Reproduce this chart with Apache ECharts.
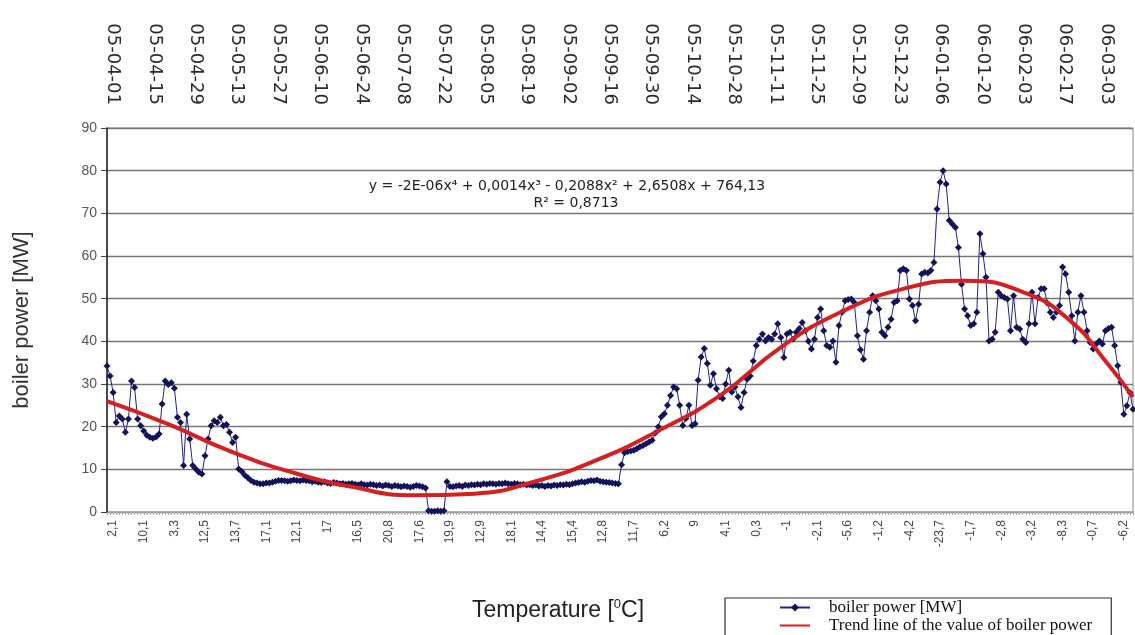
<!DOCTYPE html>
<html>
<head>
<meta charset="utf-8">
<script src="https://cdn.jsdelivr.net/npm/echarts@6/dist/echarts.min.js"></script>
<style>
  html, body { margin: 0; padding: 0; background: #fff; }
  #chart { width: 1135px; height: 635px; }
</style>
</head>
<body>
<div id="chart"></div>
<script>
// Date ticks along the top (every 14 days)
const dateTicks = [
  '05-04-01', '05-04-15', '05-04-29', '05-05-13', '05-05-27', '05-06-10', '05-06-24',
  '05-07-08', '05-07-22', '05-08-05', '05-08-19', '05-09-02', '05-09-16', '05-09-30',
  '05-10-14', '05-10-28', '05-11-11', '05-11-25', '05-12-09', '05-12-23', '06-01-06',
  '06-01-20', '06-02-03', '06-02-17', '06-03-03'
];

// Outdoor temperature shown under every 10th day
const tempTicks = [
  '2,1', '10,1', '3,3', '12,5', '13,7', '17,1', '12,1', '17', '16,5', '20,8', '17,6', '19,9',
  '12,9', '18,1', '14,4', '15,4', '12,8', '11,7', '6,2', '9', '4,1', '0,3', '-1', '-2,1',
  '-5,6', '-1,2', '-4,2', '-23,7', '-1,7', '-2,8', '-3,2', '-8,3', '-0,7', '-6,2'
];

// Daily boiler power [MW]
const power = [
  34.2, 31.9, 28.0, 21.0, 22.5, 21.8, 18.7, 21.8, 30.7, 29.2,
  21.8, 20.2, 19.0, 18.0, 17.5, 17.3, 17.6, 18.3, 25.3, 30.7,
  29.9, 30.3, 29.0, 22.2, 21.0, 10.9, 22.9, 17.1, 10.9, 10.1,
  9.3, 8.9, 13.2, 17.1, 20.2, 21.4, 21.0, 22.2, 20.2, 20.5,
  18.7, 16.3, 17.5, 10.1, 9.5, 8.6, 8.0, 7.4, 7.0, 6.8,
  6.6, 6.6, 6.8, 6.8, 7.0, 7.2, 7.4, 7.4, 7.3, 7.2,
  7.3, 7.5, 7.4, 7.3, 7.5, 7.4, 7.3, 7.1, 7.2, 7.0,
  6.9, 7.1, 6.8, 6.7, 6.9, 6.8, 6.6, 6.7, 6.5, 6.6,
  6.7, 6.5, 6.4, 6.6, 6.4, 6.3, 6.5, 6.4, 6.2, 6.3,
  6.1, 6.3, 6.2, 6.0, 6.2, 6.1, 5.9, 6.1, 6.0, 5.8,
  6.0, 6.2, 6.1, 5.9, 5.6, 0.3, 0.2, 0.2, 0.3, 0.2,
  0.3, 7.1, 6.0, 5.9, 6.1, 6.2, 6.0, 6.3, 6.2, 6.4,
  6.3, 6.5, 6.4, 6.6, 6.5, 6.7, 6.6, 6.5, 6.7, 6.6,
  6.8, 6.6, 6.5, 6.7, 6.6, 6.4, 6.5, 6.3, 6.4, 6.2,
  6.3, 6.1, 6.2, 6.0, 6.2, 6.1, 6.3, 6.2, 6.4, 6.3,
  6.5, 6.4, 6.6, 6.8, 6.9, 7.1, 7.0, 7.2, 7.4, 7.3,
  7.5, 7.2, 7.1, 7.0, 6.9, 6.8, 6.7, 6.6, 11.1, 13.9,
  14.2, 14.3, 14.5, 14.8, 15.3, 15.6, 16.0, 16.4, 16.8, 18.5,
  20.0, 22.3, 23.0, 25.0, 27.3, 29.3, 28.9, 25.0, 20.3, 21.9,
  25.0, 20.3, 20.7, 30.9, 36.3, 38.3, 34.8, 29.7, 32.4, 28.9,
  27.0, 26.6, 30.0, 33.2, 28.1, 29.3, 27.0, 24.5, 28.0, 31.1,
  31.9, 35.4, 39.0, 40.5, 41.7, 40.1, 40.9, 40.5, 41.7, 44.1,
  40.9, 36.2, 41.7, 42.1, 40.5, 42.1, 43.0, 44.4, 42.5, 40.0,
  38.2, 40.5, 45.6, 47.6, 42.5, 39.0, 38.6, 40.1, 35.1, 43.7,
  46.8, 49.5, 49.8, 49.9, 49.1, 41.3, 38.0, 35.8, 42.5, 46.8,
  50.7, 49.5, 47.6, 42.1, 41.3, 43.3, 45.2, 49.1, 49.5, 56.6,
  57.0, 56.6, 49.9, 48.4, 44.8, 48.7, 55.8, 56.2, 56.0, 56.6,
  58.5, 71.0, 77.3, 80.0, 76.9, 68.3, 67.5, 66.7, 62.0, 53.4,
  47.6, 46.0, 43.7, 44.1, 46.8, 65.2, 60.5, 55.0, 40.1, 40.5,
  42.1, 51.5, 50.7, 50.3, 49.9, 42.5, 50.7, 43.3, 42.9, 40.5,
  39.7, 44.1, 51.5, 44.1, 50.3, 52.3, 52.3, 49.0, 46.8, 45.6,
  46.8, 48.4, 57.4, 55.8, 51.5, 46.0, 40.1, 46.8, 50.7, 46.8,
  42.5, 39.7, 38.2, 39.4, 40.1, 39.4, 42.5, 43.0, 43.3, 39.0,
  34.3, 30.4, 22.9, 24.9, 28.0, 24.1
];

// Trend line of boiler power, sampled at day indices
const trendIdx = [0, 20, 40, 60, 80, 100, 120, 140, 160, 180, 200, 220, 240, 260, 280, 300, 315, 326, 335];
const trendVal = [26.0, 20.6, 14.3, 9.4, 5.9, 3.9, 4.3, 7.2, 12.2, 19.0, 27.2, 38.6, 47.0, 52.3, 54.2, 51.3, 44.5, 35.4, 27.0];

const equationText = 'y = -2E-06x\u2074 + 0,0014x\u00b3 - 0,2088x\u00b2 + 2,6508x + 764,13';
const r2Text = 'R\u00b2 = 0,8713';

// Bottom axis: one slot per day, temperature shown every 10th day
const tempFirst = 2, tempStep = 10;
const dayCats = power.map((_, i) => String(i));

// Top axis: one slot per day, date shown every 14th day
const dateFirst = 2, dateStep = 14, topSlots = 348;
const topCats = Array.from({ length: topSlots }, (_, i) => {
  const k = (i - dateFirst) / dateStep;
  return Number.isInteger(k) && k >= 0 && k < dateTicks.length ? dateTicks[k] : '';
});

const chart = echarts.init(document.getElementById('chart'), null, { renderer: 'canvas' });

const seriesPower = 'boiler power [MW]';
const seriesTrend = 'Trend line of the value of boiler power';

chart.setOption({
  backgroundColor: '#ffffff',
  animation: false,
  grid: {
    left: 107, right: 2, top: 128, bottom: 123,
    show: true, borderColor: '#888', borderWidth: 1
  },
  legend: {
    orient: 'vertical',
    left: 725, top: 598, height: 80,
    itemWidth: 30, itemHeight: 10, itemGap: 1,
    padding: [1, 19, 20, 54],
    borderColor: '#333', borderWidth: 1.2,
    textStyle: {
      fontFamily: 'Liberation Serif', fontSize: 17, color: '#111',
      padding: [0, 0, 0, 14]
    },
    data: [
      { name: seriesPower },
      { name: seriesTrend, itemStyle: { opacity: 0 } }
    ]
  },
  xAxis: [
    {
      type: 'category',
      data: dayCats,
      boundaryGap: false,
      position: 'bottom',
      axisLine: { lineStyle: { color: '#999', width: 1 } },
      axisTick: { show: true, interval: 0, length: 3, lineStyle: { color: '#aaa' } },
      axisLabel: {
        rotate: 90,
        margin: 8,
        interval: (i) => i >= tempFirst && (i - tempFirst) % tempStep === 0,
        formatter: (v, i) => tempTicks[(i - tempFirst) / tempStep] ?? '',
        fontFamily: 'Liberation Sans', fontSize: 12, color: '#4a4a4a'
      },
      splitLine: { show: false }
    },
    {
      type: 'category',
      data: topCats,
      boundaryGap: false,
      position: 'top',
      axisLine: { show: false },
      axisTick: { show: false },
      axisLabel: {
        rotate: 90,
        margin: 23,
        interval: (i, v) => v !== '',
        fontFamily: 'DejaVu Sans', fontSize: 18, color: '#2a2a2a'
      },
      splitLine: { show: false }
    }
  ],
  yAxis: {
    type: 'value',
    min: 0, max: 90, interval: 10,
    axisLine: { show: true, lineStyle: { color: '#222', width: 1.5 } },
    axisTick: { show: true, length: 6, lineStyle: { color: '#444' } },
    axisLabel: { fontFamily: 'Liberation Sans', fontSize: 14, color: '#555', margin: 10 },
    splitLine: { lineStyle: { color: '#777', width: 1.3 } }
  },
  series: [
    {
      name: seriesPower,
      type: 'line',
      xAxisIndex: 0,
      data: power,
      symbol: 'diamond',
      symbolSize: 7,
      showSymbol: true,
      showAllSymbol: true,
      lineStyle: { color: '#22228c', width: 1 },
      itemStyle: { color: '#12125a' },
      z: 2
    },
    {
      name: seriesTrend,
      type: 'line',
      xAxisIndex: 0,
      data: trendIdx.map((x, i) => [x, trendVal[i]]),
      smooth: true,
      symbol: 'none',
      lineStyle: { color: '#d42020', width: 4 },
      itemStyle: { color: '#d42020' },
      z: 3
    }
  ],
  graphic: [
    {
      type: 'text',
      x: 22, y: 320,
      rotation: Math.PI / 2,
      style: {
        text: 'boiler power [MW]',
        fontFamily: 'Liberation Sans', fontSize: 22, fill: '#333',
        textAlign: 'center', textVerticalAlign: 'middle'
      }
    },
    {
      type: 'text',
      x: 567, y: 186,
      style: {
        text: equationText,
        fontFamily: 'DejaVu Sans', fontSize: 14, fill: '#222',
        textAlign: 'center', textVerticalAlign: 'middle'
      }
    },
    {
      type: 'text',
      x: 576, y: 203,
      style: {
        text: r2Text,
        fontFamily: 'DejaVu Sans', fontSize: 14, fill: '#222',
        textAlign: 'center', textVerticalAlign: 'middle'
      }
    },
    {
      type: 'text',
      x: 558, y: 611,
      style: {
        text: '{a|Temperature [}{s|0}{a|C]}',
        textAlign: 'center', textVerticalAlign: 'middle',
        rich: {
          a: { fontFamily: 'Liberation Sans', fontSize: 23, fill: '#222' },
          s: { fontFamily: 'Liberation Sans', fontSize: 13, fill: '#222', padding: [0, 0, 13, 0] }
        }
      }
    }
  ]
});
</script>
</body>
</html>
